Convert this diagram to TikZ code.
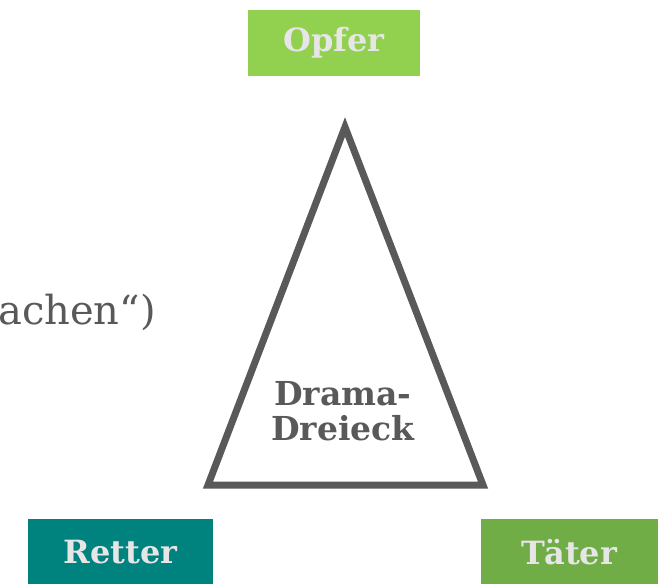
\documentclass[tikz,border=0pt]{standalone}
\usepackage{fontspec}
\setmainfont{DejaVu Serif}
\definecolor{opfer}{HTML}{92D050}
\definecolor{retter}{HTML}{00827F}
\definecolor{taeter}{HTML}{70AD47}
\definecolor{dgray}{HTML}{595959}
\definecolor{ltext}{HTML}{E7E6E6}
\begin{document}
\begin{tikzpicture}[x=1pt,y=-1pt,
  rolebox/.style={inner sep=0pt, text=ltext, font=\fontsize{32}{36}\selectfont\bfseries},
  tri/.style={draw=dgray, line width=7pt, line join=miter}]
\clip (0,0) rectangle (662,584);
\useasboundingbox (0,0) rectangle (662,584);
\node[rolebox, fill=opfer, minimum width=172pt, minimum height=66pt] (opfer) at (334,43) {Opfer};
\node[rolebox, fill=retter, minimum width=185pt, minimum height=66pt] (retter) at (120.5,552) {Retter};
\node[rolebox, fill=taeter, minimum width=177pt, minimum height=66pt] (taeter) at (569.5,552) {Täter};
\coordinate (apex) at (345,127);
\coordinate (bl) at (208,485);
\coordinate (br) at (483,485);
\draw[tri] (apex) -- (bl) -- (br) -- cycle;
\node[text=dgray, align=center, font=\fontsize{33}{35}\selectfont\bfseries] (drama) at (343,411) {Drama-\\Dreieck};
\node[text=dgray, anchor=base east, inner sep=0pt, font=\fontsize{40}{44}\selectfont] (frag) at (156,324) {achen“)};
\end{tikzpicture}
\end{document}
